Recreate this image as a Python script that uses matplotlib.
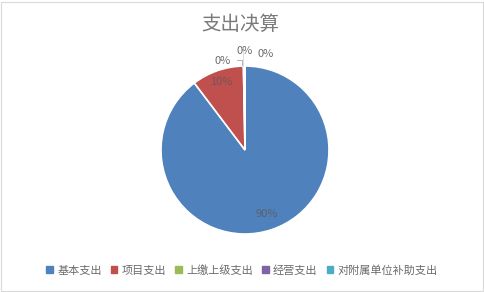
import numpy as np
import matplotlib.pyplot as plt
from matplotlib.patches import Rectangle

plt.rcParams['font.family'] = ['Noto Sans CJK SC', 'DejaVu Sans']

categories = ["基本支出", "项目支出", "上缴上级支出", "经营支出", "对附属单位补助支出"]
values = [89.7, 10.0, 0.2, 0.05, 0.05]
pct_labels = ["90%", "10%", "0%", "0%", "0%"]
colors = ["#4F81BD", "#C0504D", "#9BBB59", "#8064A2", "#4BACC6"]

text_color = "#6B6B6B"

fig = plt.figure(figsize=(4.84, 2.92), dpi=100)
fig.patches.append(Rectangle((0.003, 0.004), 0.994, 0.99, transform=fig.transFigure,
                             fill=False, edgecolor="#D9D9D9", linewidth=0.8))

# pie area: centre (245,150) px, radius 84 px
ax = fig.add_axes([161 / 484, 58 / 292, 168 / 484, 168 / 292])
wedges, _ = ax.pie(values, colors=colors, startangle=90, counterclock=False,
                   wedgeprops=dict(edgecolor="white", linewidth=1.2))
ax.set_xlim(-1, 1)
ax.set_ylim(-1, 1)
ax.set_aspect("equal")
ax.axis("off")

# inside labels for the two big slices
for w, lab in zip(wedges[:2], pct_labels[:2]):
    ang = np.deg2rad((w.theta1 + w.theta2) / 2)
    r = 0.8 if lab == "90%" else 0.86
    ax.text(r * np.cos(ang), r * np.sin(ang), lab, ha="center", va="center",
            fontsize=8, color="#5A5A5A", alpha=0.8)

# outside labels for the tiny slices (offsets in data units)
offsets = [(-0.27, 1.06), (0.0, 1.18), (0.24, 1.14)]
for w, lab, (tx, ty) in zip(wedges[2:], pct_labels[2:], offsets):
    ax.text(tx, ty, lab, ha="center", va="center", fontsize=8, color=text_color, clip_on=False)
# leader lines
ax.plot([-0.1, -0.04, -0.04], [1.07, 1.07, 1.01], color="#A6A6A6", lw=0.6, clip_on=False)
ax.plot([-0.02, -0.02], [1.0, 1.18], color="#D9D9D9", lw=0.6, clip_on=False)

fig.text(0.497, 0.918, "支出决算", ha="center", va="center", fontsize=14, color="#7A7A7A")

handles = [Rectangle((0, 0), 1, 1, color=c) for c in colors]
fig.legend(handles, categories, loc="center", bbox_to_anchor=(0.5, 0.075), ncol=5,
           frameon=False, fontsize=8, handlelength=0.6, handleheight=0.6,
           handletextpad=0.4, columnspacing=0.8, labelcolor=text_color)

fig.savefig("out.png", dpi=100)
